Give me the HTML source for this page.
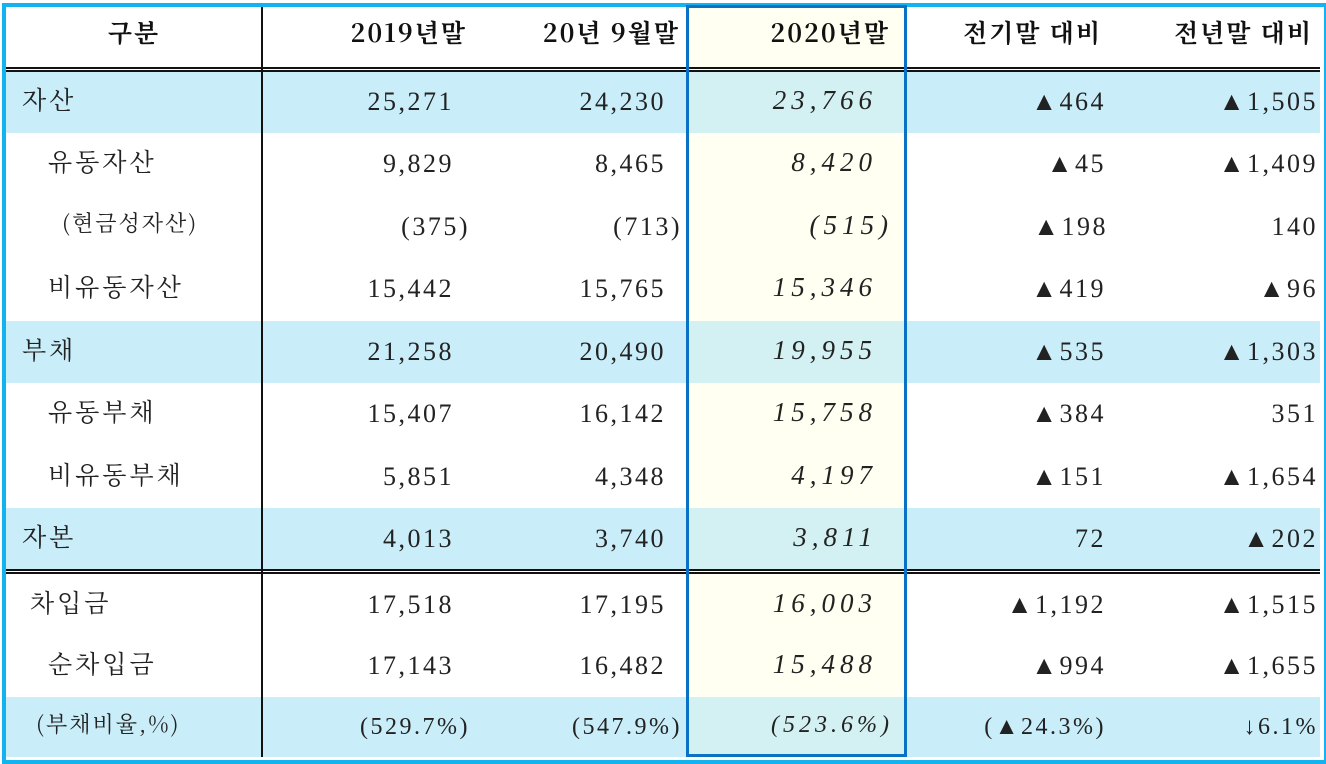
<!DOCTYPE html>
<html><head><meta charset="utf-8"><style>
body{margin:0;width:1326px;height:762px;background:#fff;position:relative;overflow:hidden;font-family:"Liberation Serif","Noto Serif CJK KR",serif;color:#222}
.c{position:absolute;font-size:26px;white-space:nowrap;line-height:1;letter-spacing:2.5px}
.h{font-family:"Noto Serif CJK KR","Liberation Serif",serif;font-weight:bold;font-size:25px;color:#111;letter-spacing:2px;top:20px!important}
.i{font-style:italic;font-size:27px;letter-spacing:5px}
</style></head><body>
<div id="tbl"></div>
<script>
const labels=["자산","유동자산","(현금성자산)","비유동자산","부채","유동부채","비유동부채","자본","차입금","순차입금","(부채비율,%)"];
const indents=[16,42,56,42,16,42,42,16,24,42,30];
const shaded=[1,0,0,0,1,0,0,1,0,0,1];
const v2019=["25,271","9,829","(375)","15,442","21,258","15,407","5,851","4,013","17,518","17,143","(529.7%)"];
const vSep=["24,230","8,465","(713)","15,765","20,490","16,142","4,348","3,740","17,195","16,482","(547.9%)"];
const v2020=["23,766","8,420","(515)","15,346","19,955","15,758","4,197","3,811","16,003","15,488","(523.6%)"];
const dPrev=["▲464","▲45","▲198","▲419","▲535","▲384","▲151","72","▲1,192","▲994","(▲24.3%)"];
const dYear=["▲1,505","▲1,409","140","▲96","▲1,303","351","▲1,654","▲202","▲1,515","▲1,655","↓6.1%"];
const headers=["구분","2019년말","20년 9월말","2020년말","전기말 대비","전년말 대비"];
const tops=[71,133,196,258,321,383,446,508,574,635,697];
const T=document.getElementById('tbl');
function box(css){const d=document.createElement('div');d.style.cssText='position:absolute;'+css;T.appendChild(d);return d;}
tops.forEach((t,k)=>{const h=(k==7?570:(k==10?757:tops[k+1]))-t;
 const b=box(`left:6px;top:${t}px;width:1314px;height:${h}px;background:${shaded[k]?'#c9eefa':'#fff'}`);
 
 
 const hb=box(`left:688px;top:${t}px;width:216px;height:${h}px;background:${shaded[k]?'#d3f1f2':'#fffff2'}`);
 
 
});
const hh=box('left:688px;top:6px;width:216px;height:61px;background:#fffff2');


[[67,2],[70,2],[569,2],[572,2]].forEach(([y,h])=>{const l=box(`left:6px;top:${y}px;width:1314px;height:${h}px;background:#111`);
 
 });
const vl=box('left:261px;top:6px;width:2px;height:751px;background:#111');


function txt(s,css,cls,name){const d=box(css);d.className='c '+(cls||'');d.textContent=s;
 
 return d;}
txt(headers[0],'left:6px;width:256px;top:25px;text-align:center','h','header-category');
const hr=[467,680,890,1102,1313];
for(let j=1;j<6;j++){txt(headers[j],`right:${1326-hr[j-1]}px;top:25px`,'h','header-'+j);}
tops.forEach((t,k)=>{const y=t+18;const paren=v2019[k].startsWith('(')&&!v2019[k].includes('%');
 const pct=k==10;const fs=pct?'font-size:24px;':'';
 txt(labels[k],`left:${6+indents[k]}px;top:${y-2}px;font-family:'Noto Serif CJK KR','Noto Sans CJK KR',serif;font-size:${k==2||k==10?22:25}px;letter-spacing:${k==2||k==10?2:3}px`,'','row-label');
 txt(v2019[k],`right:${1326-(paren||pct?470:454)}px;top:${y}px;${fs}`,'','value-2019');
 txt(vSep[k],`right:${1326-(paren||pct?682:666)}px;top:${y}px;${fs}`,'','value-sep-2020');
 txt(v2020[k],`right:${1326-(paren||pct?893:877)}px;top:${y-2}px;${pct?'font-size:24px;letter-spacing:4px':''}`,'i','value-2020');
 txt(dPrev[k],`right:${1326-(k==2?1108:1106)}px;top:${y}px;${fs}`,'','change-prev-quarter');
 txt(dYear[k],`right:${1326-1318}px;top:${y}px;${fs}`,'','change-prev-year');
});
const ob=box('left:2px;top:3px;width:1318px;height:753px;border:4px solid #12b3ef');


const hbx=box('left:686px;top:5px;width:215px;height:746px;border:3px solid #0a72c4');


</script>
</body></html>
